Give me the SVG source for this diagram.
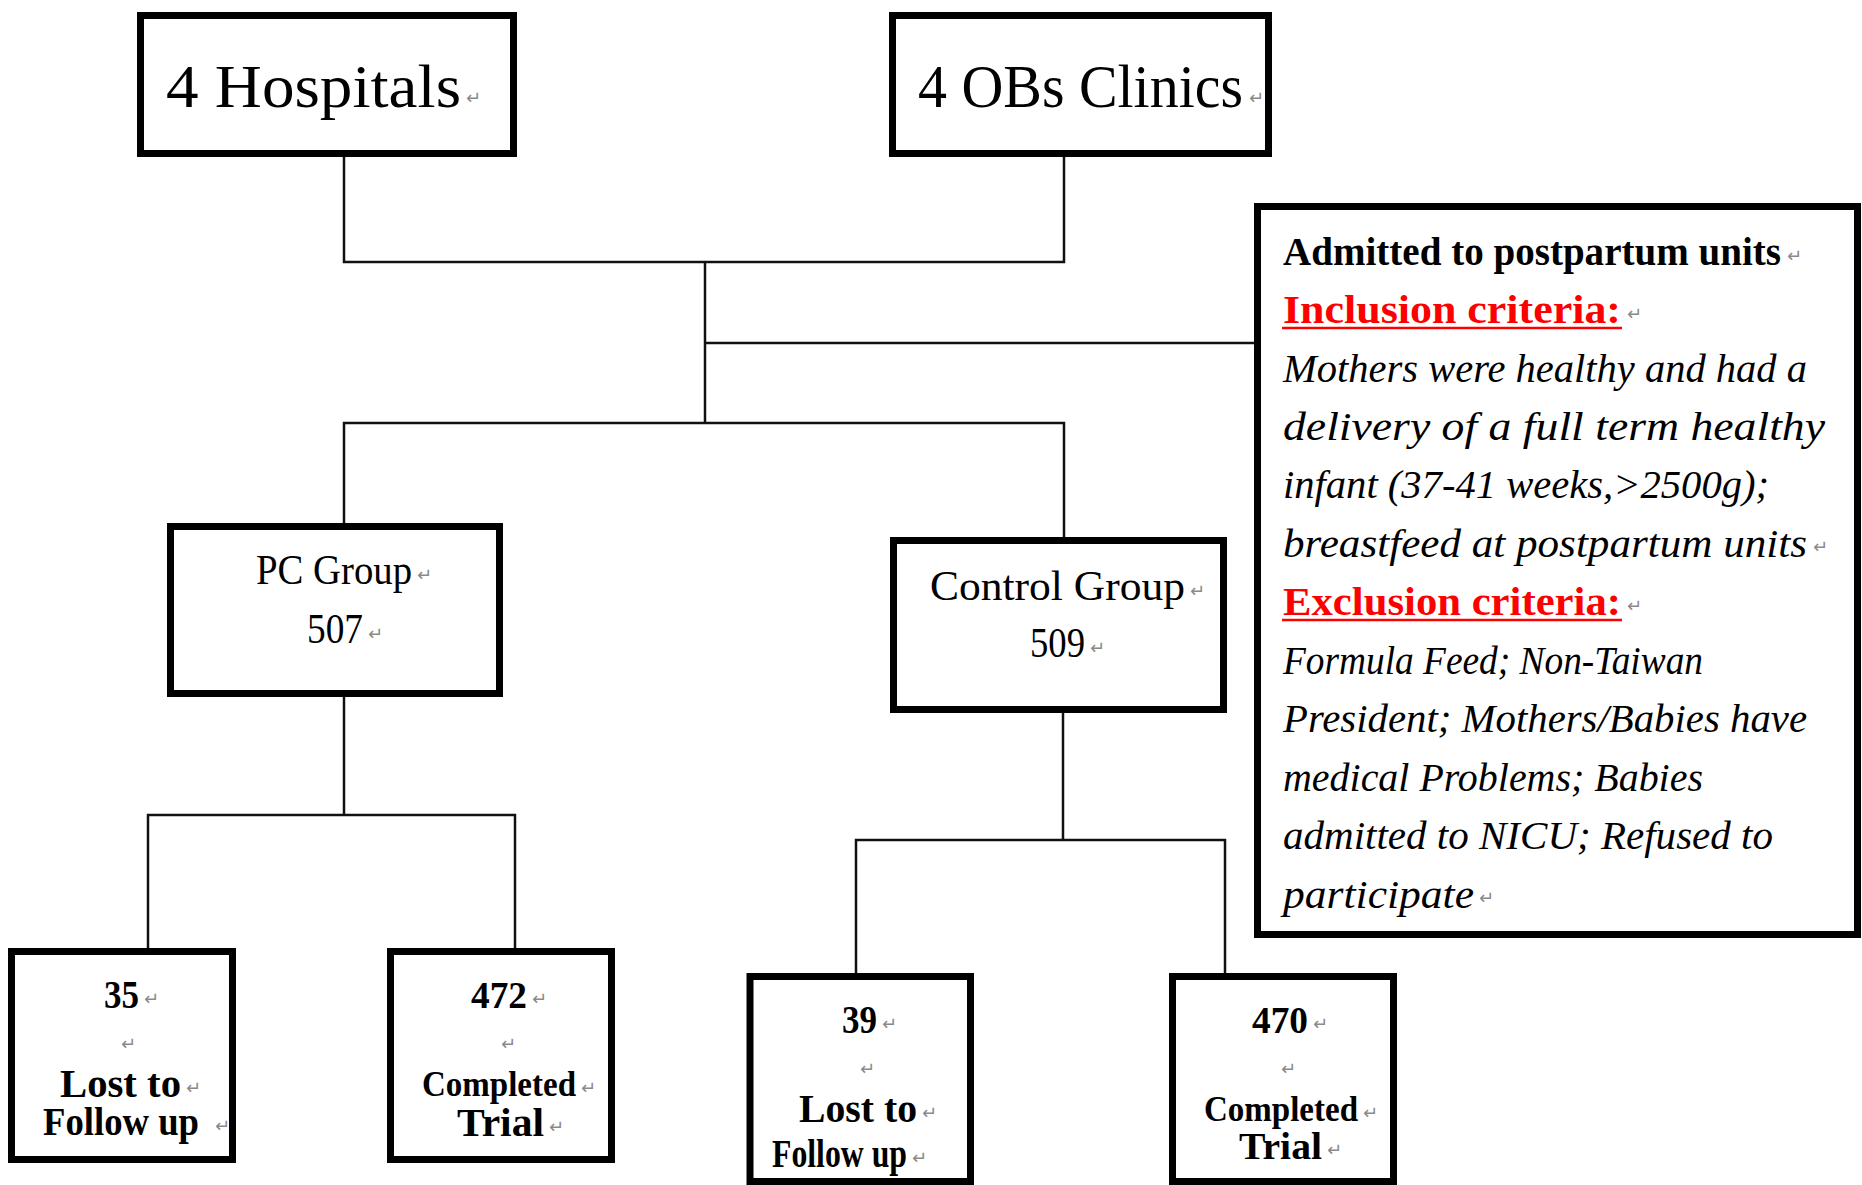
<svg xmlns="http://www.w3.org/2000/svg" width="1862" height="1185" viewBox="0 0 1862 1185">
<style>
.box{fill:#fff;stroke:#000;stroke-width:7}
.conn{fill:none;stroke:#111;stroke-width:2.5}
.t{font-family:"Liberation Serif","DejaVu Serif",serif;fill:#000}
.big{font-size:62px}
.mid{font-size:42px}
.sm{font-size:39px;font-weight:bold}
.hd{font-size:39px;font-weight:bold}
.red{fill:#ff0000}
.it{font-size:40px;font-style:italic}
.pm{font-family:"DejaVu Sans",sans-serif;font-size:18px;fill:#8a8a8a}
.ul{stroke:#ff0000;stroke-width:2.5}
</style>
<rect width="1862" height="1185" fill="#fff"/>
<g id="connectors">
<polyline class="conn" points="344,157 344,262 1064,262 1064,157"/>
<line class="conn" x1="705" y1="262" x2="705" y2="423"/>
<line class="conn" x1="705" y1="343" x2="1254" y2="343"/>
<polyline class="conn" points="344,523 344,423 1064,423 1064,537"/>
<line class="conn" x1="344" y1="697" x2="344" y2="815"/>
<polyline class="conn" points="148,948 148,815 515,815 515,948"/>
<line class="conn" x1="1063" y1="713" x2="1063" y2="840"/>
<polyline class="conn" points="856,973 856,840 1225,840 1225,973"/>
</g>
<g id="hospitals">
<rect class="box" x="140.5" y="15.5" width="373" height="138"/>
<text class="t big" x="166" y="107" textLength="295" lengthAdjust="spacingAndGlyphs">4 Hospitals</text>
<text class="pm" x="466" y="104">↵</text>
</g>
<g id="obs-clinics">
<rect class="box" x="892.5" y="15.5" width="376" height="138"/>
<text class="t" font-size="57" transform="translate(918 107) scale(1 1.088)" textLength="325" lengthAdjust="spacingAndGlyphs">4 OBs Clinics</text>
<text class="pm" x="1249" y="104">↵</text>
</g>
<g id="criteria">
<rect class="box" x="1257.5" y="206.5" width="600" height="728"/>
<text class="t hd" x="1283" y="265" textLength="498" lengthAdjust="spacingAndGlyphs">Admitted to postpartum units</text>
<text class="pm" x="1787" y="262">↵</text>
<text class="t hd red" x="1283" y="323" textLength="338" lengthAdjust="spacingAndGlyphs">Inclusion criteria:</text>
<line class="ul" x1="1282" y1="328" x2="1622" y2="328"/>
<text class="pm" x="1627" y="320">↵</text>
<text class="t it" x="1283" y="382" textLength="524" lengthAdjust="spacingAndGlyphs">Mothers were healthy and had a</text>
<text class="t it" x="1283" y="439.5" textLength="542" lengthAdjust="spacingAndGlyphs">delivery of a full term healthy</text>
<text class="t it" x="1283" y="498" textLength="486" lengthAdjust="spacingAndGlyphs">infant (37-41 weeks,&gt;2500g);</text>
<text class="t it" x="1283" y="556.5" textLength="524" lengthAdjust="spacingAndGlyphs">breastfeed at postpartum units</text>
<text class="pm" x="1813" y="553">↵</text>
<text class="t hd red" x="1283" y="615" textLength="338" lengthAdjust="spacingAndGlyphs">Exclusion criteria:</text>
<line class="ul" x1="1282" y1="620" x2="1622" y2="620"/>
<text class="pm" x="1627" y="612">↵</text>
<text class="t it" x="1283" y="673.5" textLength="420" lengthAdjust="spacingAndGlyphs">Formula Feed; Non-Taiwan</text>
<text class="t it" x="1283" y="732" textLength="524" lengthAdjust="spacingAndGlyphs">President; Mothers/Babies have</text>
<text class="t it" x="1283" y="790.5" textLength="420" lengthAdjust="spacingAndGlyphs">medical Problems; Babies</text>
<text class="t it" x="1283" y="849" textLength="490" lengthAdjust="spacingAndGlyphs">admitted to NICU; Refused to</text>
<text class="t it" x="1283" y="907.5" textLength="191" lengthAdjust="spacingAndGlyphs">participate</text>
<text class="pm" x="1479" y="904">↵</text>
</g>
<g id="pc-group">
<rect class="box" x="170.5" y="526.5" width="329" height="167"/>
<text class="t" font-size="38" transform="translate(256 584) scale(1 1.105)" textLength="156" lengthAdjust="spacingAndGlyphs">PC Group</text>
<text class="pm" x="417" y="581">↵</text>
<text class="t" font-size="36.5" transform="translate(307 643) scale(1 1.15)" textLength="56" lengthAdjust="spacingAndGlyphs">507</text>
<text class="pm" x="368" y="640">↵</text>
</g>
<g id="control-group">
<rect class="box" x="893.5" y="540.5" width="330" height="169"/>
<text class="t mid" x="930" y="600" textLength="255" lengthAdjust="spacingAndGlyphs">Control Group</text>
<text class="pm" x="1190" y="597">↵</text>
<text class="t" font-size="36.5" transform="translate(1030 657) scale(1 1.15)" textLength="55" lengthAdjust="spacingAndGlyphs">509</text>
<text class="pm" x="1090" y="654">↵</text>
</g>
<g id="pc-lost">
<rect class="box" x="11.5" y="951.5" width="221" height="208"/>
<text class="t" font-weight="bold" font-size="34" transform="translate(104 1008) scale(1 1.147)" textLength="35" lengthAdjust="spacingAndGlyphs">35</text>
<text class="pm" x="144" y="1005">↵</text>
<text class="pm" x="121" y="1050">↵</text>
<text class="t sm" x="60" y="1097" textLength="121" lengthAdjust="spacingAndGlyphs">Lost to</text>
<text class="pm" x="186" y="1094">↵</text>
<text class="t" font-weight="bold" font-size="36" transform="translate(43 1135) scale(1 1.083)" textLength="156" lengthAdjust="spacingAndGlyphs">Follow up</text>
<text class="pm" x="215" y="1132">↵</text>
</g>
<g id="pc-completed">
<rect class="box" x="390.5" y="951.5" width="221" height="208"/>
<text class="t" font-weight="bold" font-size="36.5" transform="translate(471 1008) scale(1 1.068)" textLength="56" lengthAdjust="spacingAndGlyphs">472</text>
<text class="pm" x="532" y="1005">↵</text>
<text class="pm" x="501" y="1050">↵</text>
<text class="t" font-weight="bold" font-size="32.5" transform="translate(422 1096) scale(1 1.12)" textLength="154" lengthAdjust="spacingAndGlyphs">Completed</text>
<text class="pm" x="581" y="1094">↵</text>
<text class="t sm" x="457" y="1136" textLength="87" lengthAdjust="spacingAndGlyphs">Trial</text>
<text class="pm" x="549" y="1133">↵</text>
</g>
<g id="control-lost">
<rect class="box" x="750" y="976.5" width="220.5" height="205"/>
<text class="t" font-weight="bold" font-size="34" transform="translate(842 1033) scale(1 1.147)" textLength="35" lengthAdjust="spacingAndGlyphs">39</text>
<text class="pm" x="882" y="1030">↵</text>
<text class="pm" x="860" y="1075">↵</text>
<text class="t sm" x="799" y="1122" textLength="118" lengthAdjust="spacingAndGlyphs">Lost to</text>
<text class="pm" x="922" y="1119">↵</text>
<text class="t" font-weight="bold" font-size="31" transform="translate(772 1167) scale(1 1.258)" textLength="135" lengthAdjust="spacingAndGlyphs">Follow up</text>
<text class="pm" x="912" y="1164">↵</text>
</g>
<g id="control-completed">
<rect class="box" x="1172.5" y="976.5" width="221" height="205"/>
<text class="t" font-weight="bold" font-size="36.5" transform="translate(1252 1033) scale(1 1.068)" textLength="56" lengthAdjust="spacingAndGlyphs">470</text>
<text class="pm" x="1313" y="1030">↵</text>
<text class="pm" x="1281" y="1075">↵</text>
<text class="t" font-weight="bold" font-size="32.5" transform="translate(1204 1121) scale(1 1.12)" textLength="154" lengthAdjust="spacingAndGlyphs">Completed</text>
<text class="pm" x="1363" y="1119">↵</text>
<text class="t" font-weight="bold" font-size="38" transform="translate(1239 1159) scale(1 1.026)" textLength="83" lengthAdjust="spacingAndGlyphs">Trial</text>
<text class="pm" x="1327" y="1156">↵</text>
</g>
</svg>
